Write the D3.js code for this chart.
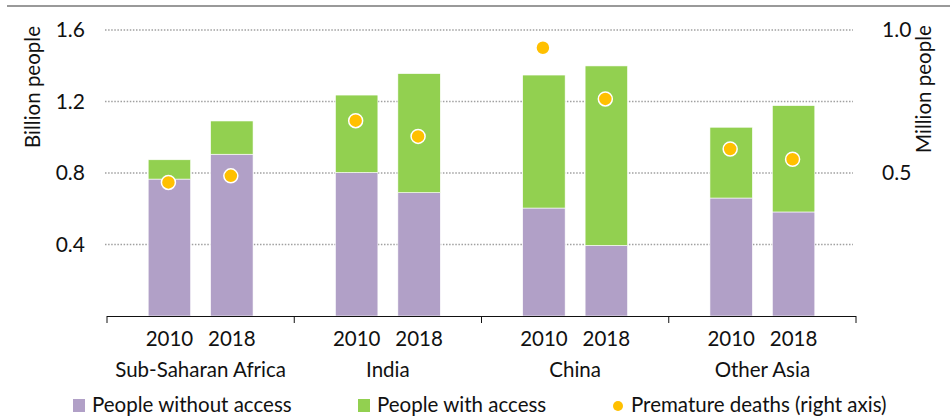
<!DOCTYPE html>
<html>
<head>
<meta charset="utf-8">
<script src="https://cdn.jsdelivr.net/npm/d3@7"></script>
<style>
  body { margin:0; background:#fff; }
  svg text { font-family: Lato, "Open Sans", sans-serif; fill:#111; }
</style>
</head>
<body>
<svg id="Vis" width="950" height="418"></svg>
<script>
// data
var regions = ["Sub-Saharan Africa", "India", "China", "Other Asia"];
var years = ["2010", "2018"];
// billion people, per region, [2010, 2018]
var withoutAccess = [[0.766, 0.905], [0.803, 0.690], [0.604, 0.395], [0.660, 0.582]];
var withAccess    = [[0.108, 0.186], [0.433, 0.666], [0.744, 1.004], [0.396, 0.595]];
// million people (right axis)
var prematureDeaths = [[0.467, 0.490], [0.683, 0.628], [0.938, 0.759], [0.584, 0.548]];
var leftTicks = [0.4, 0.8, 1.2, 1.6];
var rightTicks = [0.5, 1.0];

var purple = "#b1a0c7", green = "#92d050", orange = "#ffc000";
var fs = "20.5px";

var svg = d3.select("#Vis");

var x0 = d3.scaleBand().domain(regions).range([107, 856]);
var x1 = d3.scaleBand().domain(years).range([0, x0.bandwidth()])
           .paddingInner(0.32).paddingOuter(0.66);
var yL = d3.scaleLinear().domain([0, 1.6]).range([316, 30]);
var yR = d3.scaleLinear().domain([0, 1.0]).range([316, 30]);

// top rule
svg.append("line").attr("x1", 7).attr("x2", 950).attr("y1", 6).attr("y2", 6)
   .attr("stroke", "#999").attr("stroke-width", 2);

// gridlines
svg.append("g").selectAll("line").data(leftTicks).enter().append("line")
   .attr("x1", 105).attr("x2", 853)
   .attr("y1", function(d){ return yL(d); }).attr("y2", function(d){ return yL(d); })
   .attr("stroke", "#a0a0a0").attr("stroke-width", 1.5)
   .attr("stroke-dasharray", "1.5,1.6");

// left axis labels
var left = d3.axisLeft(yL).tickValues(leftTicks).tickFormat(d3.format(".1f")).tickSize(0).tickPadding(0);
var gl = svg.append("g").attr("transform", "translate(85,0)").call(left);
gl.select(".domain").remove();
gl.selectAll("text").style("font-size", "21px").attr("fill", "#111").style("font-family", null);

var right = d3.axisRight(yR).tickValues(rightTicks).tickFormat(d3.format(".1f")).tickSize(0).tickPadding(0);
var gr = svg.append("g").attr("transform", "translate(882,0)").call(right);
gr.select(".domain").remove();
gr.selectAll("text").style("font-size", "21px").attr("fill", "#111").style("font-family", null);

svg.append("text").attr("transform", "translate(40,87) rotate(-90)")
   .attr("text-anchor", "middle").style("font-size", "20.5px").text("Billion people");
svg.append("text").attr("transform", "translate(931,89) rotate(-90)")
   .attr("text-anchor", "middle").style("font-size", "20.5px").text("Million people");

// bars
var rows = [];
for (var i = 0; i < regions.length; i++) {
  for (var j = 0; j < years.length; j++) {
    rows.push({region: regions[i], year: years[j], wo: withoutAccess[i][j], w: withAccess[i][j], d: prematureDeaths[i][j]});
  }
}

var gBars = svg.append("g");
var bx = function(d){ return x0(d.region) + x1(d.year); };

gBars.selectAll("rect.wo").data(rows).enter().append("rect").attr("class", "wo")
   .attr("x", bx).attr("width", x1.bandwidth())
   .attr("y", function(d){ return yL(d.wo); })
   .attr("height", function(d){ return yL(0) - yL(d.wo); })
   .attr("fill", purple).attr("stroke", "#fff").attr("stroke-width", 0.6);

gBars.selectAll("rect.w").data(rows).enter().append("rect").attr("class", "w")
   .attr("x", bx).attr("width", x1.bandwidth())
   .attr("y", function(d){ return yL(d.wo + d.w); })
   .attr("height", function(d){ return yL(d.wo) - yL(d.wo + d.w); })
   .attr("fill", green).attr("stroke", "#fff").attr("stroke-width", 0.6);

gBars.selectAll("circle").data(rows).enter().append("circle")
   .attr("cx", function(d){ return bx(d) + x1.bandwidth() / 2 - 1; })
   .attr("cy", function(d){ return yR(d.d); })
   .attr("r", 7).attr("fill", orange).attr("stroke", "#fff").attr("stroke-width", 1.5);

// x axis
var xa = d3.axisBottom(x0).tickSize(0).tickFormat("");
var gx = svg.append("g").attr("transform", "translate(0,316.5)").call(xa);
gx.select(".domain").attr("d", "M107,0H856").attr("stroke", "#111");
svg.append("g").selectAll("line").data(d3.range(regions.length + 1)).enter().append("line")
   .attr("x1", function(d){ return d < regions.length ? x0(regions[d]) : x0.range()[1]; })
   .attr("x2", function(d){ return d < regions.length ? x0(regions[d]) : x0.range()[1]; })
   .attr("y1", 316).attr("y2", 323).attr("stroke", "#111");

svg.append("g").selectAll("text").data(rows).enter().append("text")
   .attr("x", function(d){ return bx(d) + x1.bandwidth() / 2; })
   .attr("y", 346).attr("text-anchor", "middle").style("font-size", fs)
   .text(function(d){ return d.year; });

svg.append("g").selectAll("text").data(regions).enter().append("text")
   .attr("x", function(d){ return x0(d) + x0.bandwidth() / 2; })
   .attr("y", 377).attr("text-anchor", "middle").style("font-size", fs)
   .text(function(d){ return d; });

// legend
var lg = svg.append("g");
lg.append("rect").attr("x", 73).attr("y", 399).attr("width", 12).attr("height", 13).attr("fill", purple);
lg.append("text").attr("x", 92).attr("y", 412).style("font-size", fs).text("People without access");
lg.append("rect").attr("x", 358).attr("y", 399).attr("width", 12).attr("height", 13).attr("fill", green);
lg.append("text").attr("x", 377).attr("y", 412).style("font-size", fs).text("People with access");
lg.append("circle").attr("cx", 618).attr("cy", 406).attr("r", 5).attr("fill", orange);
lg.append("text").attr("x", 631).attr("y", 412).style("font-size", fs).text("Premature deaths (right axis)");
</script>
</body>
</html>
